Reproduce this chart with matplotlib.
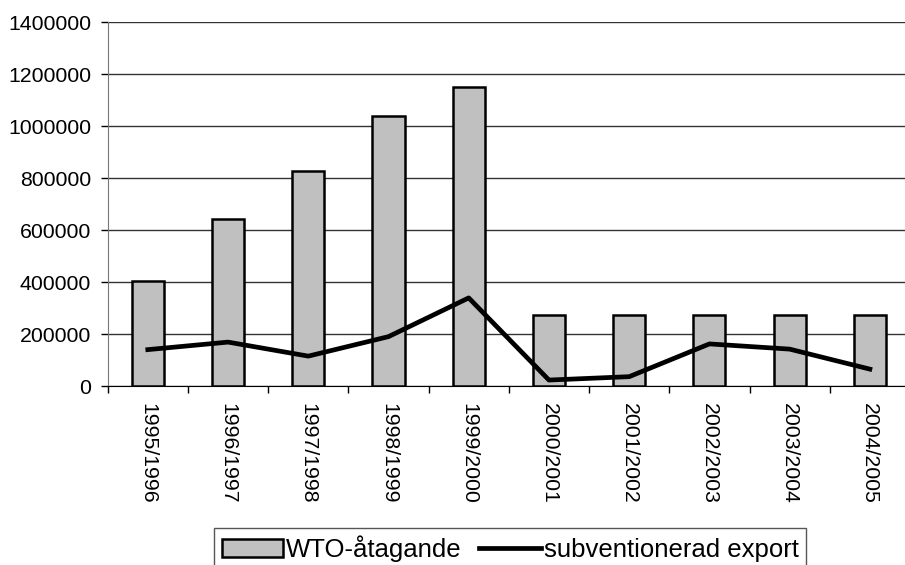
import numpy as np
import matplotlib
matplotlib.use("Agg")
import matplotlib.pyplot as plt

plt.rcParams['font.family'] = ['Liberation Sans', 'DejaVu Sans']

seasons = ['1995/1996', '1996/1997', '1997/1998', '1998/1999', '1999/2000',
           '2000/2001', '2001/2002', '2002/2003', '2003/2004', '2004/2005']
wto = [405000, 645000, 830000, 1040000, 1150000,
       273000, 273000, 273000, 273000, 273000]
export = [141000, 170000, 116000, 191000, 340000,
          24000, 37000, 163000, 143000, 66000]
yticks = [0, 200000, 400000, 600000, 800000, 1000000, 1200000, 1400000]

fig = plt.figure(figsize=(9.05, 5.65), dpi=100)
ax = fig.add_axes([0.119, 0.3163, 0.8865, 0.6442])

x = np.arange(len(seasons))
bars = ax.bar(x, wto, width=0.4, color='#c0c0c0', edgecolor='black',
              linewidth=1.8, label='WTO-åtagande', zorder=3)
line, = ax.plot(x, export, color='black', linewidth=3.4,
                label='subventionerad export', zorder=4)

ax.set_xlim(-0.5, len(seasons) - 0.5)
ax.set_ylim(0, 1400000)
ax.set_yticks(yticks)
ax.set_yticklabels([str(v) for v in yticks])
ax.yaxis.grid(True, color='#333333', linewidth=1.0, zorder=0)
ax.set_axisbelow(True)

ax.set_xticks(x)
ax.set_xticklabels(seasons, rotation=270)
ax.set_xticks(np.arange(len(seasons) + 1) - 0.5, minor=True)
ax.tick_params(axis='x', which='major', length=0, pad=12, labelsize=15.3)
ax.tick_params(axis='x', which='minor', length=5, width=1, direction='out')
ax.tick_params(axis='y', length=5, width=1, pad=7, labelsize=15.3)

for s in ['top', 'right']:
    ax.spines[s].set_visible(False)
ax.spines['left'].set_color('#777777')
ax.spines['bottom'].set_color('black')

leg = fig.legend([bars, line], ['WTO-åtagande', 'subventionerad export'],
                 loc='upper center', bbox_to_anchor=(510 / 905, 1 - 528 / 565),
                 ncol=2, fontsize=18.5, frameon=True, fancybox=False,
                 edgecolor='#555555', framealpha=1, borderpad=0.3,
                 handlelength=2.4, handletextpad=0.1, columnspacing=0.7,
                 borderaxespad=0)
leg.get_frame().set_linewidth(1.0)

fig.savefig('out.png', dpi=100)
